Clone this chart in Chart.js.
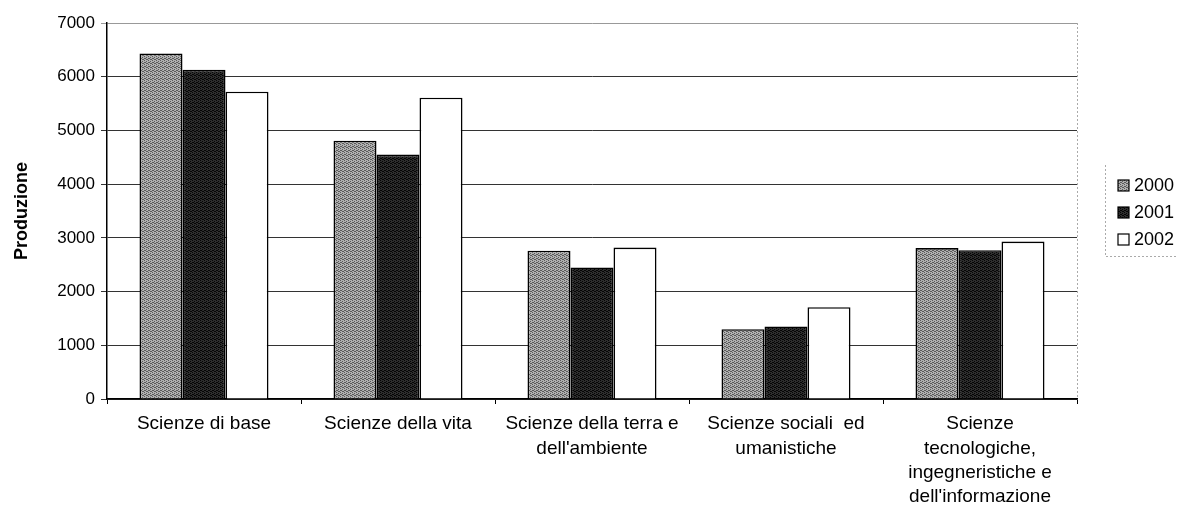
<!DOCTYPE html>
<html>
<head>
<meta charset="utf-8">
<script src="https://cdn.jsdelivr.net/npm/chart.js@4"></script>
<style>
  html, body { margin: 0; padding: 0; background: #fff; }
  #wrap { width: 1179px; height: 518px; }
</style>
</head>
<body>
<div id="wrap"><canvas id="prodChart" width="1179" height="518"></canvas></div>
<script>
const categories = [
  'Scienze di base',
  'Scienze della vita',
  ['Scienze della terra e', "dell'ambiente"],
  ['Scienze sociali  ed', 'umanistiche'],
  ['Scienze', 'tecnologiche,', 'ingegneristiche e', "dell'informazione"]
];
const years = ['2000', '2001', '2002'];
const values2000 = [6430, 4810, 2760, 1300, 2810];
const values2001 = [6130, 4550, 2450, 1350, 2770];
const values2002 = [5720, 5610, 2820, 1710, 2930];
const yTicks = [0, 1000, 2000, 3000, 4000, 5000, 6000, 7000];

// small dithered fills to mimic the scanned print
const makePattern = (light, dark, density) => {
  const c = document.createElement('canvas');
  c.width = 4; c.height = 4;
  const g = c.getContext('2d');
  g.fillStyle = light;
  g.fillRect(0, 0, 4, 4);
  g.fillStyle = dark;
  const dots = [[0,0],[2,1],[1,2],[3,3],[2,3],[0,2],[3,1],[1,0]];
  dots.slice(0, density).forEach(([x, y]) => g.fillRect(x, y, 1, 1));
  return g.createPattern(c, 'repeat');
};

const fills = [
  makePattern('#b0b0b0', '#5a5a5a', 6),
  makePattern('#2e2e2e', '#050505', 6),
  '#ffffff'
];
const seriesValues = [values2000, values2001, values2002];

const family = 'Arial, "Liberation Sans", sans-serif';

// legend drawn at the right, like the original boxed legend
const sideLegend = {
  id: 'sideLegend',
  afterDraw(chart) {
    const ctx = chart.ctx;
    const area = chart.chartArea;
    ctx.save();
    // faint dotted frame of the plot's right side and the legend box
    ctx.strokeStyle = '#aaa';
    ctx.lineWidth = 1;
    ctx.setLineDash([2, 2]);
    ctx.beginPath();
    ctx.moveTo(area.right + 0.5, area.top);
    ctx.lineTo(area.right + 0.5, area.bottom);
    ctx.moveTo(1105.5, 165);
    ctx.lineTo(1105.5, 256.5);
    ctx.lineTo(1176, 256.5);
    ctx.stroke();
    ctx.setLineDash([]);
    ctx.font = '18px ' + family;
    ctx.textBaseline = 'middle';
    chart.data.datasets.forEach((ds, i) => {
      const y = 186 + i * 27;
      ctx.fillStyle = ds.backgroundColor;
      ctx.fillRect(1118, y - 6, 11, 11);
      ctx.strokeStyle = '#000';
      ctx.lineWidth = 1.2;
      ctx.strokeRect(1118, y - 6, 11, 11);
      ctx.fillStyle = '#000';
      ctx.fillText(ds.label, 1134, y);
    });
    ctx.restore();
  }
};

new Chart(document.getElementById('prodChart'), {
  type: 'bar',
  data: {
    labels: categories,
    datasets: years.map((y, i) => ({
      label: y,
      data: seriesValues[i],
      backgroundColor: fills[i],
      borderColor: '#000',
      borderWidth: 1.6,
      categoryPercentage: 0.665,
      barPercentage: 1
    }))
  },
  plugins: [sideLegend],
  options: {
    responsive: false,
    animation: false,
    layout: { padding: { top: 23, right: 102, left: 0, bottom: 0 } },
    plugins: {
      tooltip: { enabled: false },
      legend: { display: false }
    },
    scales: {
      x: {
        afterFit: axis => { axis.height = 119; },
        grid: { display: true, drawOnChartArea: false, drawTicks: true, tickLength: 5, color: '#000', offset: true },
        border: { color: '#000', width: 1.5 },
        ticks: { color: '#000', font: { family: family, size: 19, lineHeight: 1.28 }, maxRotation: 0, autoSkip: false, padding: 8 }
      },
      y: {
        min: 0,
        max: 7000,
        afterBuildTicks: axis => { axis.ticks = yTicks.map(v => ({ value: v })); },
        afterFit: axis => { axis.width = 107; },
        grid: {
          color: ctx => ctx.tick && ctx.tick.value === 7000 ? '#999' : '#333',
          lineWidth: 1,
          tickLength: 6,
          drawTicks: true
        },
        border: { color: '#000', width: 1.5 },
        ticks: { color: '#000', font: { family: family, size: 17 }, padding: 6, callback: v => String(v) },
        title: {
          display: true,
          text: 'Produzione',
          color: '#000',
          font: { family: family, size: 18, weight: 'bold' },
          padding: { top: 11, bottom: 0 }
        }
      }
    }
  }
});
</script>
</body>
</html>
